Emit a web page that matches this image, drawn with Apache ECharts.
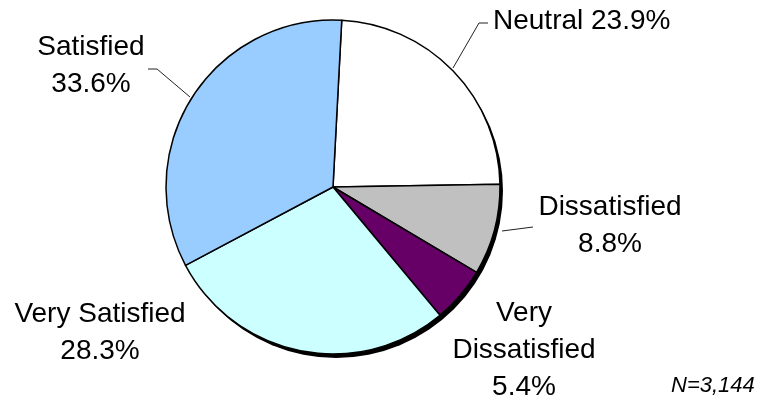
<!DOCTYPE html>
<html>
<head>
<meta charset="utf-8">
<script src="https://cdn.jsdelivr.net/npm/echarts@6/dist/echarts.min.js"></script>
<style>
  html, body { margin: 0; padding: 0; background: #fff; }
  #chart { width: 760px; height: 402px; }
</style>
</head>
<body>
<div id="chart"></div>
<script>
// Satisfaction breakdown, drawn clockwise from the top
const categories = ['Neutral', 'Dissatisfied', 'Very Dissatisfied', 'Very Satisfied', 'Satisfied'];
const shares = [23.9, 8.8, 5.4, 28.3, 33.6];
const sliceColors = ['#FFFFFF', '#C0C0C0', '#660066', '#CCFFFF', '#99CCFF'];
const sampleNote = 'N=3,144';

// label anchor and optional leader line for each slice
const labelSpots = [
  { x: 493, y: 21, align: 'left', line: [[488, 23], [479, 23], [453, 68]] },
  { x: 610, y: 226, align: 'center', line: [[533, 227], [502, 231]] },
  { x: 524, y: 350, align: 'center', line: null },
  { x: 100, y: 333, align: 'center', line: null },
  { x: 91, y: 66, align: 'center', line: [[148, 69], [157, 69], [190, 97]] }
];

const chart = echarts.init(document.getElementById('chart'), null, { renderer: 'canvas' });

const pieCenter = [333, 187];
const pieRadius = 167;

const sliceData = categories.map((name, i) => ({
  name: name,
  value: shares[i],
  itemStyle: { color: sliceColors[i] },
  labelLine: { show: !!labelSpots[i].line }
}));

function labelText(p) {
  const v = p.value.toFixed(1) + '%';
  if (p.name === 'Neutral') return p.name + ' ' + v;
  if (p.name === 'Very Dissatisfied') return 'Very\nDissatisfied\n' + v;
  return p.name + '\n' + v;
}

chart.setOption({
  animation: false,
  backgroundColor: '#fff',
  title: {
    text: sampleNote,
    left: 666,
    top: 370,
    textStyle: {
      fontFamily: 'Liberation Sans',
      fontStyle: 'italic',
      fontWeight: 'normal',
      fontSize: 22,
      color: '#000'
    }
  },
  series: [
    {
      // dark drop shadow under the pie
      type: 'pie',
      silent: true,
      center: [pieCenter[0] + 3, pieCenter[1] + 4],
      radius: pieRadius,
      label: { show: false },
      labelLine: { show: false },
      itemStyle: { color: '#000', borderWidth: 0 },
      data: [{ name: 'shadow', value: 1 }],
      z: 1
    },
    {
      type: 'pie',
      center: pieCenter,
      radius: pieRadius,
      startAngle: 87,
      clockwise: true,
      avoidLabelOverlap: false,
      itemStyle: { borderColor: '#000', borderWidth: 1.5 },
      label: {
        show: true,
        position: 'outside',
        formatter: labelText,
        fontFamily: 'Liberation Sans',
        fontSize: 28,
        lineHeight: 37,
        color: '#000'
      },
      labelLine: {
        show: true,
        lineStyle: { color: '#222', width: 1 }
      },
      labelLayout: function (params) {
        const s = labelSpots[params.dataIndex];
        const out = {
          x: s.x,
          y: s.y,
          align: s.align,
          verticalAlign: 'middle'
        };
        if (s.line) out.labelLinePoints = s.line;
        return out;
      },
      data: sliceData,
      z: 2
    }
  ]
});
</script>
</body>
</html>
